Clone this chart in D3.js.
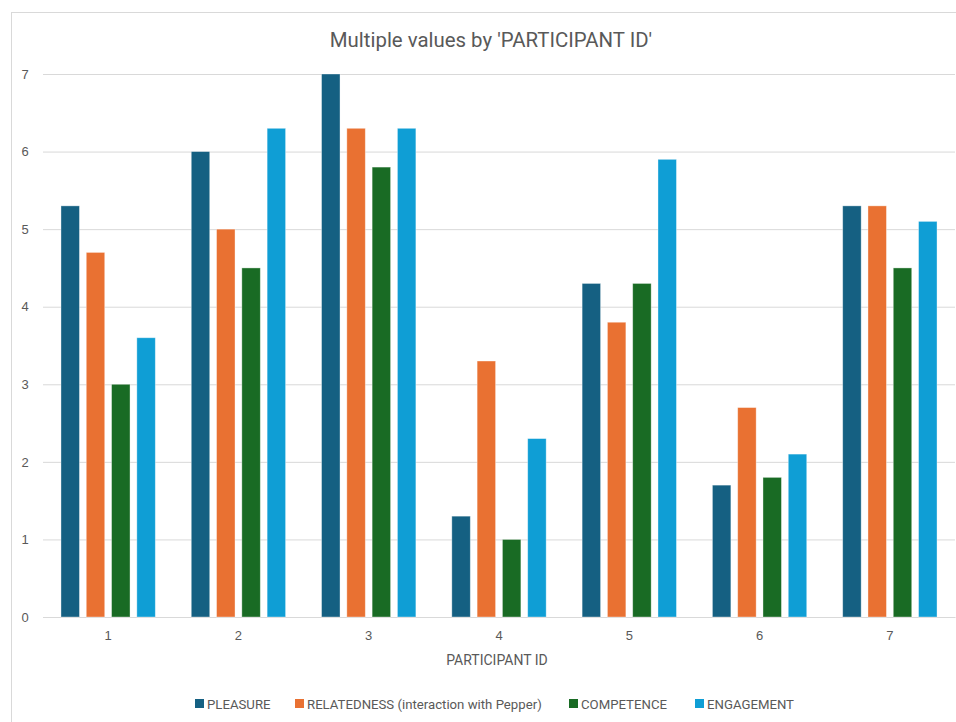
<!DOCTYPE html>
<html>
<head>
<meta charset="utf-8">
<script src="https://cdn.jsdelivr.net/npm/d3@7/dist/d3.min.js"></script>
<style>
  html, body { margin: 0; padding: 0; background: #fff; }
  svg { display: block; font-family: Roboto, "Open Sans", sans-serif; }
</style>
</head>
<body>
<svg id="chart" width="956" height="722"></svg>
<script>
// Participant scores per dimension
const participants = ["1", "2", "3", "4", "5", "6", "7"];
const seriesNames = ["PLEASURE", "RELATEDNESS (interaction with Pepper)", "COMPETENCE", "ENGAGEMENT"];
const pleasure    = [5.3, 6.0, 7.0, 1.3, 4.3, 1.7, 5.3];
const relatedness = [4.7, 5.0, 6.3, 3.3, 3.8, 2.7, 5.3];
const competence  = [3.0, 4.5, 5.8, 1.0, 4.3, 1.8, 4.5];
const engagement  = [3.6, 6.3, 6.3, 2.3, 5.9, 2.1, 5.1];
const yTicks = [0, 1, 2, 3, 4, 5, 6, 7];
const colors = ["#156082", "#E97132", "#196B24", "#0F9ED5"];

const seriesValues = [pleasure, relatedness, competence, engagement];
const rows = participants.map((p, i) => ({
  id: p,
  values: seriesNames.map((s, k) => ({ key: s, k, v: seriesValues[k][i] }))
}));

const svg = d3.select("#chart");
const W = 956, H = 722;

// chart frame
svg.append("rect")
  .attr("x", 11.5).attr("y", 12.5)
  .attr("width", W + 10).attr("height", H + 10)
  .attr("fill", "#fff").attr("stroke", "#d9d9d9").attr("stroke-width", 1);

const plot = { left: 43, right: 955, top: 74, bottom: 617 };

const x = d3.scaleBand().domain(participants).range([plot.left, plot.right]).paddingInner(0.276).paddingOuter(0.138);
const xInner = d3.scaleBand().domain(d3.range(seriesNames.length)).range([0, x.bandwidth()]).paddingInner(0.27);
const y = d3.scaleLinear().domain([0, 7]).range([plot.bottom, plot.top]);

// gridlines + y labels
const yAxis = d3.axisLeft(y).tickValues(yTicks).tickSize(-(plot.right - plot.left)).tickPadding(14).tickFormat(d3.format("d"));
const gy = svg.append("g").attr("transform", `translate(${plot.left},0)`).call(yAxis);
gy.select(".domain").remove();
gy.selectAll(".tick line").attr("stroke", "#d9d9d9").attr("stroke-width", 1);
gy.selectAll(".tick text").attr("fill", "#595959").attr("font-size", 13).attr("text-anchor", "middle").attr("x", -18);

// x axis labels
const xAxis = d3.axisBottom(x).tickSize(0).tickPadding(14);
const gx = svg.append("g").attr("transform", `translate(0,${plot.bottom})`).call(xAxis);
gx.select(".domain").attr("stroke", "#d9d9d9");
gx.selectAll(".tick text").attr("fill", "#595959").attr("font-size", 13);

// bars
const groups = svg.append("g").selectAll("g").data(rows).join("g")
  .attr("transform", d => `translate(${x(d.id)},0)`);
groups.selectAll("rect").data(d => d.values).join("rect")
  .attr("x", d => xInner(d.k))
  .attr("width", xInner.bandwidth())
  .attr("y", d => y(d.v))
  .attr("height", d => y(0) - y(d.v))
  .attr("fill", d => colors[d.k])
  .attr("stroke", "#ffffff").attr("stroke-opacity", 0.45).attr("stroke-width", 0.8);

// title
svg.append("text")
  .attr("x", 491).attr("y", 47)
  .attr("text-anchor", "middle")
  .attr("font-size", 20.4).attr("fill", "#595959")
  .text("Multiple values by 'PARTICIPANT ID'");

// x axis title
svg.append("text")
  .attr("x", 497).attr("y", 665)
  .attr("text-anchor", "middle")
  .attr("font-size", 14).attr("fill", "#595959")
  .text("PARTICIPANT ID");

// legend
const legendX = [195, 295, 569, 695];
const legend = svg.append("g").selectAll("g").data(seriesNames).join("g")
  .attr("transform", (d, i) => `translate(${legendX[i]},704)`);
legend.append("rect").attr("x", 0).attr("y", -5).attr("width", 9).attr("height", 9)
  .attr("fill", (d, i) => colors[i]);
legend.append("text").attr("x", 12).attr("y", 4.5)
  .attr("font-size", 13.2).attr("fill", "#595959")
  .text(d => d);
</script>
</body>
</html>
